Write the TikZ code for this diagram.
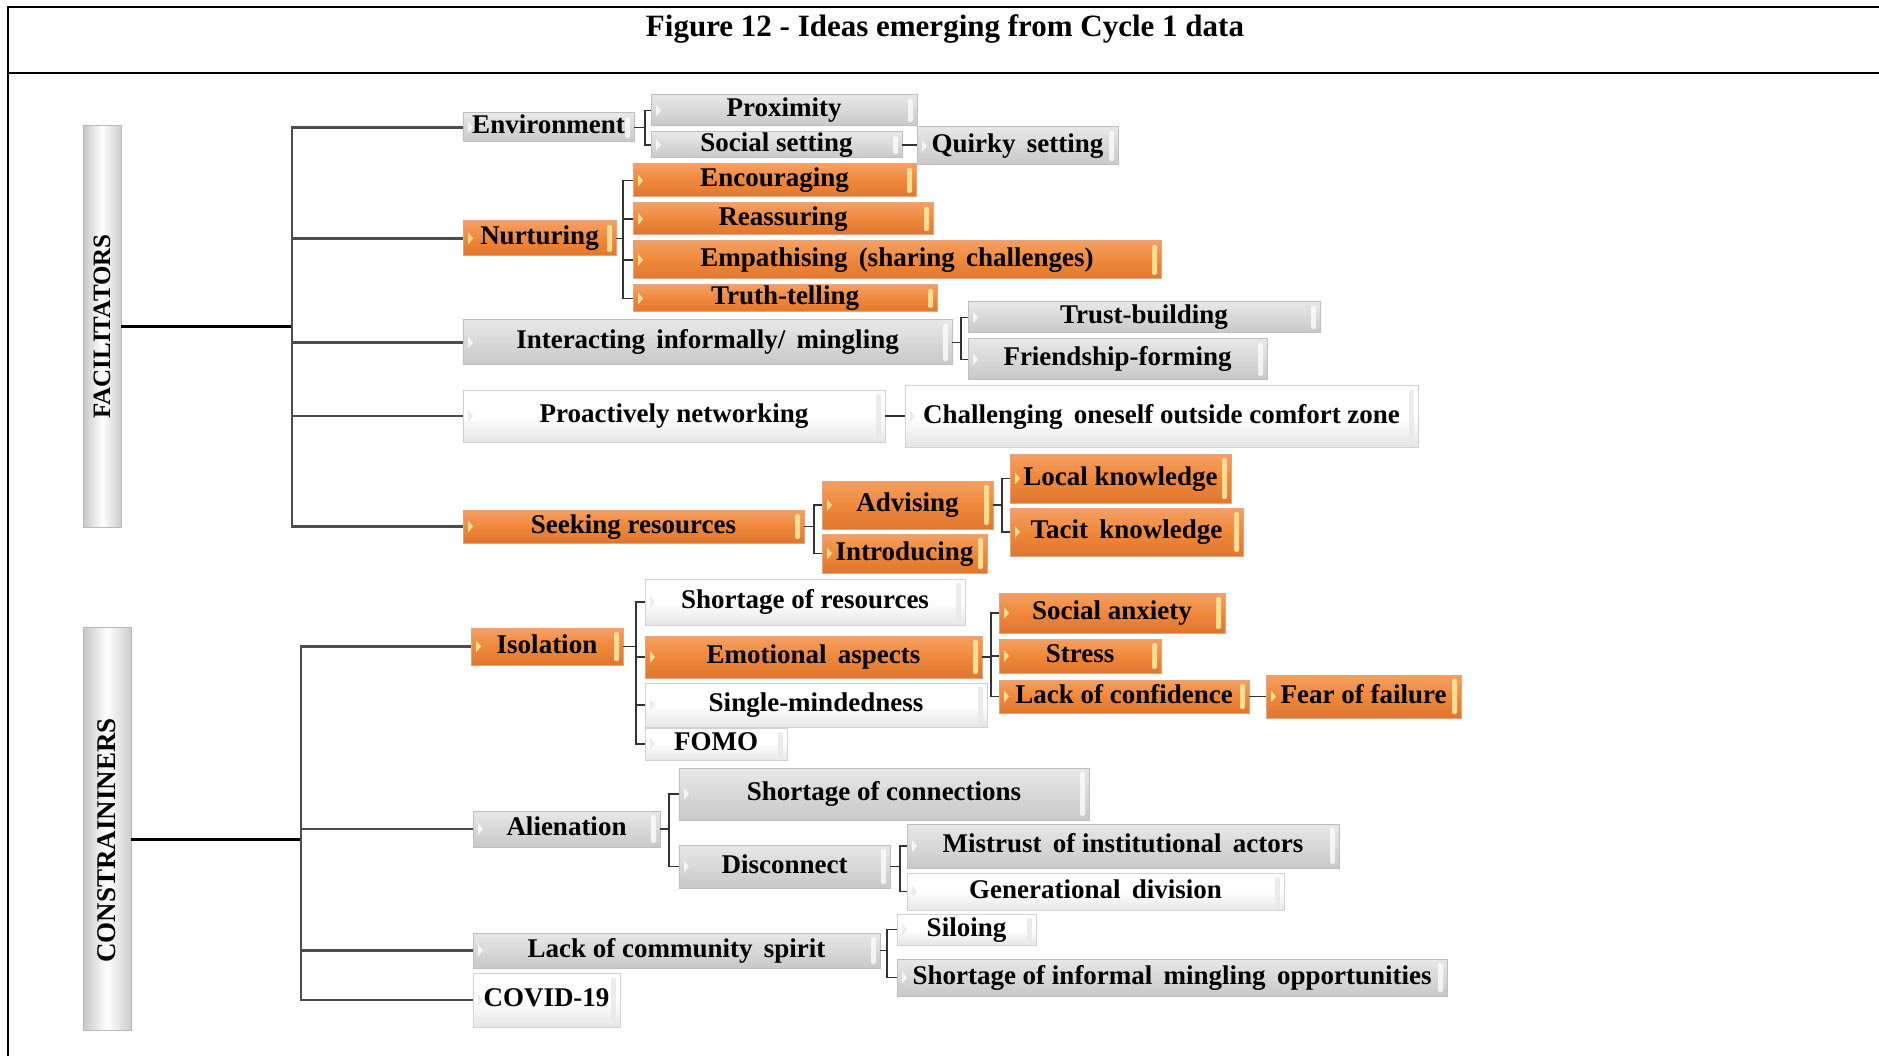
\documentclass[tikz,border=0pt]{standalone}
\usepackage{fontspec}
\setmainfont{Liberation Serif}
\usetikzlibrary{calc}

\definecolor{orTop}{HTML}{F4A064}
\definecolor{orMid}{HTML}{F0883A}
\definecolor{orBot}{HTML}{DE7630}
\definecolor{orEdge}{HTML}{E4A47C}
\definecolor{orGlow}{HTML}{FBDD98}
\definecolor{grTop}{HTML}{E8E8E8}
\definecolor{grMid}{HTML}{D8D8D8}
\definecolor{grBot}{HTML}{C8C8C8}
\definecolor{grEdge}{HTML}{BEBEBE}
\definecolor{whBot}{HTML}{E6E6E6}
\definecolor{whEdge}{HTML}{D2D2D2}
\definecolor{linkcol}{HTML}{4D4D4D}

\newcommand\bxfont{\fontsize{27}{30}\selectfont\bfseries}
\newcommand\ttlfont{\fontsize{31}{34}\selectfont\bfseries}
% box: name, style, x1, y1, x2, y2, text
\newcommand\bx[7]{\node[#2, minimum width={(#5)-(#3)}, minimum height={(#6)-(#4)}] (#1) at (#3,#4) {#7};}

\begin{document}
\begin{tikzpicture}[x=1pt,y=-1pt,
  box/.style={inner sep=0pt, outer sep=0pt, anchor=north west, font=\bxfont,
    align=center, text height=19pt, text depth=6pt, line width=1pt},
  gloss/.style={path picture={
    \fill[#1, rounded corners=2pt]
      ([xshift=-9pt,yshift=-4pt]path picture bounding box.north east) rectangle
      ([xshift=-4pt,yshift=4pt]path picture bounding box.south east);
    \fill[#1]
      ([xshift=5pt,yshift=6pt]path picture bounding box.west) --
      ([xshift=10pt]path picture bounding box.west) --
      ([xshift=5pt,yshift=-6pt]path picture bounding box.west) -- cycle;
  }},
  obox/.style={box, top color=orTop, bottom color=orBot, middle color=orMid,
    draw=orEdge, gloss=orGlow},
  gbox/.style={box, top color=grTop, bottom color=grBot, middle color=grMid,
    draw=grEdge, gloss={white, opacity=0.75}},
  wbox/.style={box, top color=white, bottom color=whBot, middle color=white,
    draw=whEdge, gloss={grTop, opacity=0.8}},
  labelbar/.style={inner sep=0pt, outer sep=0pt, anchor=north west,
    left color=gray!45, right color=gray!40, middle color=white, draw=gray!55, line width=1pt},
  trunk/.style={line width=3pt, black},
  branch/.style={line width=2.2pt, linkcol},
  brk/.style={line width=1.8pt, black!80},
  frame/.style={line width=2pt, black}
]
\useasboundingbox (0,0) rectangle (1879,1056);

% outer frame and title row
\draw[frame] (1879,7) -- (8,7) -- (8,1056);
\draw[line width=1.2pt] (8,73) -- (1879,73);
\draw[frame] (8,73) -- (84,73);
\draw[frame] (1464,73) -- (1879,73);
\node[font=\ttlfont, anchor=base] (title) at (945,37) {Figure 12 - Ideas emerging from Cycle 1 data};

% side bars
\node[labelbar, minimum width=38pt, minimum height=401pt] (facbar) at (83,126) {};
\node[rotate=90, font=\fontsize{25}{28}\selectfont\bfseries] (faclbl) at (facbar.center) {FACILITATORS};
\node[labelbar, minimum width=48pt, minimum height=403pt] (conbar) at (83,627) {};
\node[rotate=90, font=\fontsize{27}{30}\selectfont\bfseries] (conlbl) at ([yshift=-12pt]conbar.center) {CONSTRAININERS};

% ---------------- facilitators ----------------
\bx{env}{gbox}{463}{113}{634}{142}{Environment}
\bx{prox}{gbox}{651}{95}{917}{126}{Proximity}
\bx{soc}{gbox}{651}{132}{902}{158}{Social setting}
\bx{quirky}{gbox}{917}{127}{1118}{165}{Quirky\ \,setting}
\bx{nurt}{obox}{463}{221}{616}{256}{Nurturing}
\bx{enc}{obox}{633}{164}{916}{197}{Encouraging}
\bx{reas}{obox}{633}{203}{933}{235}{Reassuring}
\bx{emp}{obox}{633}{241}{1161}{279}{Empathising\ \,(sharing\ \,challenges)}
\bx{truth}{obox}{633}{285}{937}{312}{Truth-telling}
\bx{inter}{gbox}{463}{320}{952}{365}{Interacting\ \,informally/\ \,mingling}
\bx{trust}{gbox}{968}{302}{1320}{333}{Trust-building}
\bx{friend}{gbox}{968}{339}{1267}{380}{Friendship-forming}
\bx{proact}{wbox}{463}{390}{885}{442}{Proactively networking}
\bx{chall}{wbox}{905}{386}{1418}{447}{Challenging\ \,oneself outside comfort zone}
\bx{seek}{obox}{463}{510}{804}{543}{Seeking resources}
\bx{adv}{obox}{822}{481}{993}{529}{Advising}
\bx{intro}{obox}{822}{534}{987}{573}{Introducing}
\bx{local}{obox}{1010}{454}{1231}{503}{Local knowledge}
\bx{tacit}{obox}{1010}{508}{1243}{556}{Tacit\ \,knowledge}

\coordinate (fj) at (292,327);
\draw[trunk] (facbar.east |- fj) -- (fj);
\foreach \n in {env,nurt,inter,proact,seek} \draw[branch] (fj) |- (\n.west);

\foreach \n in {prox,soc} \draw[brk] (env.east) -- ++(11,0) |- (\n.west);
\draw[brk] (soc.east) -- (soc.east -| quirky.west);
\foreach \n in {enc,reas,emp,truth} \draw[brk] (nurt.east) -- ++(7,0) |- (\n.west);
\foreach \n in {trust,friend} \draw[brk] (inter.east) -- ++(9,0) |- (\n.west);
\draw[brk] (proact.east) -- (proact.east -| chall.west);
\foreach \n in {adv,intro} \draw[brk] (seek.east) -- ++(10,0) |- (\n.west);
\foreach \n in {local,tacit} \draw[brk] (adv.east) -- ++(9,0) |- (\n.west);

% ---------------- constrainers ----------------
\bx{iso}{obox}{471}{628}{623}{665}{Isolation}
\bx{shortres}{wbox}{645}{579}{965}{625}{Shortage of resources}
\bx{emo}{obox}{645}{636}{982}{678}{Emotional\ \,aspects}
\bx{single}{wbox}{645}{683}{987}{727}{Single-mindedness}
\bx{fomo}{wbox}{645}{728}{787}{760}{FOMO}
\bx{socanx}{obox}{999}{593}{1225}{633}{Social anxiety}
\bx{stress}{obox}{999}{639}{1161}{673}{Stress}
\bx{lackconf}{obox}{999}{680}{1249}{713}{Lack of confidence}
\bx{fear}{obox}{1266}{675}{1461}{718}{Fear of failure}
\bx{alien}{gbox}{473}{811}{660}{847}{Alienation}
\bx{shortconn}{gbox}{679}{768}{1089}{820}{Shortage of connections}
\bx{disc}{gbox}{679}{845}{890}{888}{Disconnect}
\bx{mistrust}{gbox}{907}{824}{1339}{868}{Mistrust\ \,of institutional\ \,actors}
\bx{gen}{wbox}{907}{873}{1284}{910}{Generational\ \,division}
\bx{lcs}{gbox}{473}{933}{880}{968}{Lack of community\ \,spirit}
\bx{silo}{wbox}{897}{914}{1036}{945}{Siloing}
\bx{shortinf}{gbox}{897}{959}{1447}{996}{Shortage of informal\ \,mingling\ \,opportunities}
\bx{covid}{wbox}{473}{973}{620}{1027}{COVID-19}

\coordinate (cj) at (301,839);
\draw[trunk] (conbar.east |- cj) -- (cj);
\foreach \n in {iso,alien,lcs,covid} \draw[branch] (cj) |- (\n.west);

\foreach \n in {shortres,emo,single,fomo} \draw[brk] (iso.east) -- ++(13,0) |- (\n.west);
\foreach \n in {socanx,stress,lackconf} \draw[brk] (emo.east) -- ++(9,0) |- (\n.west);
\draw[brk] (lackconf.east) -- (lackconf.east -| fear.west);
\foreach \n in {shortconn,disc} \draw[brk] (alien.east) -- ++(9,0) |- (\n.west);
\foreach \n in {mistrust,gen} \draw[brk] (disc.east) -- ++(10,0) |- (\n.west);
\foreach \n in {silo,shortinf} \draw[brk] (lcs.east) -- ++(7,0) |- (\n.west);
\end{tikzpicture}
\end{document}
